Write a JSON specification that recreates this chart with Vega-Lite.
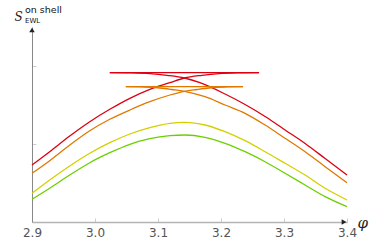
{
  "$schema": "https://vega.github.io/schema/vega-lite/v6.json",
  "width": 315,
  "height": 195,
  "autosize": {"type": "none"},
  "padding": {"left": 32, "top": 27, "right": 27, "bottom": 28},
  "background": "white",
  "config": {
    "view": {"stroke": null},
    "axis": {"grid": false},
    "title": {"font": "DejaVu Sans", "fontSize": 9.5, "fontWeight": "normal", "color": "#111", "anchor": "start", "frame": "group", "offset": -14, "dx": -7, "subtitleFont": "DejaVu Sans", "subtitleFontSize": 7, "subtitleColor": "#111", "subtitlePadding": 0}
  },
  "title": {"text": "on shell", "subtitle": "EWL"},
  "layer": [
    {
      "data": {"values": [
        {"s": "red", "g": "L", "x": 2.9, "y": 0.7308},
        {"s": "red", "g": "L", "x": 2.9281, "y": 0.9013},
        {"s": "red", "g": "L", "x": 2.9599, "y": 1.1026},
        {"s": "red", "g": "L", "x": 2.9917, "y": 1.2859},
        {"s": "red", "g": "L", "x": 3.0235, "y": 1.4449},
        {"s": "red", "g": "L", "x": 3.0553, "y": 1.5859},
        {"s": "red", "g": "L", "x": 3.0871, "y": 1.7013},
        {"s": "red", "g": "L", "x": 3.1189, "y": 1.7859},
        {"s": "red", "g": "L", "x": 3.142, "y": 1.8462},
        {"s": "red", "g": "L", "x": 3.1698, "y": 1.8808},
        {"s": "red", "g": "L", "x": 3.1968, "y": 1.9026},
        {"s": "red", "g": "L", "x": 3.2286, "y": 1.9115},
        {"s": "red", "g": "L", "x": 3.2604, "y": 1.9141},
        {"s": "red", "g": "H", "x": 3.0235, "y": 1.9141},
        {"s": "red", "g": "H", "x": 3.2604, "y": 1.9141},
        {"s": "red", "g": "R", "x": 3.0235, "y": 1.9141},
        {"s": "red", "g": "R", "x": 3.0553, "y": 1.9115},
        {"s": "red", "g": "R", "x": 3.0871, "y": 1.9026},
        {"s": "red", "g": "R", "x": 3.1142, "y": 1.8808},
        {"s": "red", "g": "R", "x": 3.142, "y": 1.8462},
        {"s": "red", "g": "R", "x": 3.1666, "y": 1.7859},
        {"s": "red", "g": "R", "x": 3.2064, "y": 1.641},
        {"s": "red", "g": "R", "x": 3.2382, "y": 1.5064},
        {"s": "red", "g": "R", "x": 3.27, "y": 1.3526},
        {"s": "red", "g": "R", "x": 3.3017, "y": 1.1795},
        {"s": "red", "g": "R", "x": 3.3335, "y": 1.0064},
        {"s": "red", "g": "R", "x": 3.3653, "y": 0.8141},
        {"s": "red", "g": "R", "x": 3.4, "y": 0.6026},
        {"s": "orange", "g": "L", "x": 2.9, "y": 0.6244},
        {"s": "orange", "g": "L", "x": 2.9281, "y": 0.7859},
        {"s": "orange", "g": "L", "x": 2.9599, "y": 0.9872},
        {"s": "orange", "g": "L", "x": 2.9917, "y": 1.1705},
        {"s": "orange", "g": "L", "x": 3.0235, "y": 1.3167},
        {"s": "orange", "g": "L", "x": 3.0553, "y": 1.4359},
        {"s": "orange", "g": "L", "x": 3.0871, "y": 1.5423},
        {"s": "orange", "g": "L", "x": 3.1189, "y": 1.6282},
        {"s": "orange", "g": "L", "x": 3.142, "y": 1.6756},
        {"s": "orange", "g": "L", "x": 3.1618, "y": 1.6987},
        {"s": "orange", "g": "L", "x": 3.1809, "y": 1.7179},
        {"s": "orange", "g": "L", "x": 3.2048, "y": 1.7308},
        {"s": "orange", "g": "L", "x": 3.235, "y": 1.7346},
        {"s": "orange", "g": "H", "x": 3.049, "y": 1.7346},
        {"s": "orange", "g": "H", "x": 3.235, "y": 1.7346},
        {"s": "orange", "g": "R", "x": 3.049, "y": 1.7346},
        {"s": "orange", "g": "R", "x": 3.0792, "y": 1.7308},
        {"s": "orange", "g": "R", "x": 3.103, "y": 1.7179},
        {"s": "orange", "g": "R", "x": 3.1221, "y": 1.6987},
        {"s": "orange", "g": "R", "x": 3.142, "y": 1.6756},
        {"s": "orange", "g": "R", "x": 3.1746, "y": 1.6064},
        {"s": "orange", "g": "R", "x": 3.2064, "y": 1.5},
        {"s": "orange", "g": "R", "x": 3.2382, "y": 1.3936},
        {"s": "orange", "g": "R", "x": 3.27, "y": 1.2436},
        {"s": "orange", "g": "R", "x": 3.3017, "y": 1.0731},
        {"s": "orange", "g": "R", "x": 3.3335, "y": 0.9013},
        {"s": "orange", "g": "R", "x": 3.3653, "y": 0.709},
        {"s": "orange", "g": "R", "x": 3.4, "y": 0.5038},
        {"s": "yellow", "g": "A", "x": 2.9, "y": 0.3679},
        {"s": "yellow", "g": "A", "x": 2.9281, "y": 0.5385},
        {"s": "yellow", "g": "A", "x": 2.9599, "y": 0.7179},
        {"s": "yellow", "g": "A", "x": 2.9917, "y": 0.8808},
        {"s": "yellow", "g": "A", "x": 3.0235, "y": 1.0167},
        {"s": "yellow", "g": "A", "x": 3.0553, "y": 1.1282},
        {"s": "yellow", "g": "A", "x": 3.0871, "y": 1.209},
        {"s": "yellow", "g": "A", "x": 3.1189, "y": 1.2654},
        {"s": "yellow", "g": "A", "x": 3.1428, "y": 1.2782},
        {"s": "yellow", "g": "A", "x": 3.1746, "y": 1.2436},
        {"s": "yellow", "g": "A", "x": 3.2064, "y": 1.1577},
        {"s": "yellow", "g": "A", "x": 3.2382, "y": 1.0423},
        {"s": "yellow", "g": "A", "x": 3.27, "y": 0.9013},
        {"s": "yellow", "g": "A", "x": 3.3017, "y": 0.7526},
        {"s": "yellow", "g": "A", "x": 3.3335, "y": 0.6026},
        {"s": "yellow", "g": "A", "x": 3.3653, "y": 0.4321},
        {"s": "yellow", "g": "A", "x": 3.4, "y": 0.2821},
        {"s": "green", "g": "A", "x": 2.9, "y": 0.291},
        {"s": "green", "g": "A", "x": 2.9281, "y": 0.4321},
        {"s": "green", "g": "A", "x": 2.9599, "y": 0.6026},
        {"s": "green", "g": "A", "x": 2.9917, "y": 0.7603},
        {"s": "green", "g": "A", "x": 3.0235, "y": 0.8885},
        {"s": "green", "g": "A", "x": 3.0553, "y": 0.9962},
        {"s": "green", "g": "A", "x": 3.0871, "y": 1.0679},
        {"s": "green", "g": "A", "x": 3.1189, "y": 1.1064},
        {"s": "green", "g": "A", "x": 3.1428, "y": 1.1154},
        {"s": "green", "g": "A", "x": 3.1746, "y": 1.0859},
        {"s": "green", "g": "A", "x": 3.2064, "y": 1.009},
        {"s": "green", "g": "A", "x": 3.2382, "y": 0.9013},
        {"s": "green", "g": "A", "x": 3.27, "y": 0.7731},
        {"s": "green", "g": "A", "x": 3.3017, "y": 0.6244},
        {"s": "green", "g": "A", "x": 3.3335, "y": 0.4744},
        {"s": "green", "g": "A", "x": 3.3653, "y": 0.3244},
        {"s": "green", "g": "A", "x": 3.4, "y": 0.1962}
      ]},
      "mark": {"type": "line", "strokeWidth": 1.3, "interpolate": "monotone", "clip": false},
      "encoding": {
        "x": {"field": "x", "type": "quantitative", "scale": {"domain": [2.9, 3.4], "nice": false, "zero": false},
          "axis": {"values": [2.9, 3.0, 3.1, 3.2, 3.3, 3.4], "format": ".1f", "labelFlush": false, "labelFont": "DejaVu Sans", "labelFontSize": 12, "labelColor": "#555", "domainColor": "#b4b4b4", "domainWidth": 1.5, "tickColor": "#cccccc", "tickSize": -4, "labelPadding": 9,
            "title": "φ", "titleFont": "DejaVu Serif", "titleFontStyle": "italic", "titleFontWeight": "normal", "titleFontSize": 15, "titleColor": "#222", "titleAngle": 0, "titleX": 325, "titleY": 0, "titleAlign": "left", "titleBaseline": "middle"}},
        "y": {"field": "y", "type": "quantitative", "scale": {"domain": [0, 2.5], "nice": false},
          "axis": {"values": [1, 2], "labels": false, "domainColor": "#888", "domainWidth": 1, "tickColor": "#cccccc", "tickSize": -4,
            "title": "S", "titleFont": "DejaVu Serif", "titleFontStyle": "italic", "titleFontWeight": "normal", "titleFontSize": 12, "titleColor": "#222", "titleAngle": 0, "titleX": -18, "titleY": -7, "titleAlign": "left", "titleBaseline": "alphabetic"}},
        "color": {"field": "s", "type": "nominal", "legend": null,
          "scale": {"domain": ["red", "orange", "yellow", "green"], "range": ["#dd0011", "#e07800", "#d4d000", "#6cd000"]}},
        "detail": {"field": "g"}
      }
    },
    {
      "data": {"values": [{"x": 3.4, "y": 0}]},
      "mark": {"type": "point", "shape": "triangle-right", "filled": true, "color": "#222", "opacity": 1, "size": 30, "xOffset": -3, "clip": false},
      "encoding": {"x": {"field": "x", "type": "quantitative"}, "y": {"field": "y", "type": "quantitative"}}
    },
    {
      "data": {"values": [{"x": 2.9, "y": 2.5}]},
      "mark": {"type": "point", "shape": "triangle-up", "filled": true, "color": "#222", "opacity": 1, "size": 30, "yOffset": 3, "clip": false},
      "encoding": {"x": {"field": "x", "type": "quantitative"}, "y": {"field": "y", "type": "quantitative"}}
    }
  ]
}
